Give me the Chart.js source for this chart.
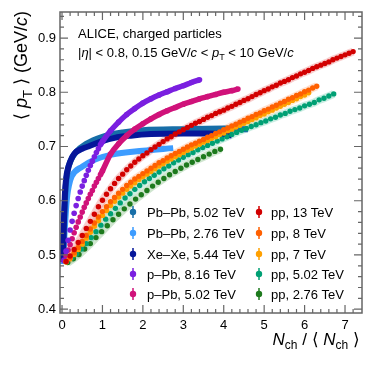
<!DOCTYPE html>
<html>
<head>
<meta charset="utf-8">
<script src="https://cdn.jsdelivr.net/npm/chart.js@4.4.1/dist/chart.umd.min.js"></script>
<style>
  html, body { margin: 0; padding: 0; background: #fff; }
  canvas { display: block; }
</style>
</head>
<body>
<canvas id="c" width="374" height="374"></canvas>
<script>
// <pT> vs Nch/<Nch>

const xTicks = [0, 1, 2, 3, 4, 5, 6, 7];
const yTicks = [0.4, 0.5, 0.6, 0.7, 0.8, 0.9];

// x positions (Nch/<Nch>) of the pp bins
const xPP10 = [0.1, 0.2, 0.3, 0.4, 0.5, 0.6, 0.7, 0.8, 0.9, 1.0,
  1.1, 1.2, 1.3, 1.4, 1.5, 1.6, 1.7, 1.8, 1.9, 2.0,
  2.1, 2.2, 2.3, 2.4, 2.5, 2.6, 2.7, 2.8, 2.9, 3.0,
  3.1, 3.2, 3.3, 3.4, 3.5, 3.6, 3.7, 3.8, 3.9, 4.0,
  4.1, 4.2, 4.3, 4.4, 4.5, 4.6, 4.7, 4.8, 4.9, 5.0,
  5.1, 5.2, 5.3, 5.4, 5.5, 5.6, 5.7, 5.8, 5.9, 6.0,
  6.1, 6.2, 6.3, 6.4, 6.5, 6.6, 6.7, 6.8, 6.9, 7.0,
  7.1, 7.2];
const xPP502 = [0.12, 0.24, 0.36, 0.48, 0.60, 0.72, 0.84, 0.96, 1.08, 1.20,
  1.32, 1.44, 1.56, 1.68, 1.80, 1.92, 2.04, 2.16, 2.28, 2.40,
  2.52, 2.64, 2.76, 2.88, 3.00, 3.12, 3.24, 3.36, 3.48, 3.60,
  3.72, 3.84, 3.96, 4.08, 4.20, 4.32, 4.44, 4.56, 4.68, 4.80,
  4.92, 5.04, 5.16, 5.28, 5.40, 5.52, 5.64, 5.76, 5.88, 6.00,
  6.12, 6.24, 6.36, 6.48, 6.60, 6.72];
const xPP276 = [0.14, 0.28, 0.42, 0.56, 0.70, 0.84, 0.98, 1.12, 1.26, 1.40,
  1.54, 1.68, 1.82, 1.96, 2.10, 2.24, 2.38, 2.52, 2.66, 2.80,
  2.94, 3.08, 3.22, 3.36, 3.50, 3.64, 3.78, 3.92];

const pp13 = [0.488, 0.498, 0.510, 0.523, 0.536, 0.549, 0.562, 0.575, 0.589, 0.601,
  0.612, 0.622, 0.632, 0.641, 0.649, 0.657, 0.664, 0.671, 0.677, 0.683,
  0.688, 0.694, 0.699, 0.704, 0.709, 0.714, 0.718, 0.723, 0.727, 0.731,
  0.735, 0.739, 0.743, 0.746, 0.750, 0.754, 0.757, 0.761, 0.764, 0.767,
  0.771, 0.774, 0.778, 0.781, 0.785, 0.788, 0.792, 0.796, 0.799, 0.803,
  0.806, 0.810, 0.813, 0.817, 0.820, 0.823, 0.827, 0.830, 0.834, 0.837,
  0.840, 0.844, 0.847, 0.850, 0.853, 0.856, 0.860, 0.863, 0.866, 0.869,
  0.872, 0.875];
const pp8 = [0.488, 0.495, 0.504, 0.514, 0.525, 0.536, 0.548, 0.559, 0.570, 0.580,
  0.589, 0.598, 0.606, 0.614, 0.621, 0.628, 0.634, 0.640, 0.645, 0.650,
  0.655, 0.660, 0.665, 0.670, 0.674, 0.679, 0.683, 0.687, 0.691, 0.695,
  0.699, 0.703, 0.706, 0.710, 0.713, 0.717, 0.720, 0.724, 0.727, 0.731,
  0.734, 0.738, 0.741, 0.745, 0.748, 0.752, 0.755, 0.759, 0.762, 0.766,
  0.769, 0.773, 0.776, 0.780, 0.783, 0.787, 0.790, 0.794, 0.797, 0.801,
  0.804, 0.808, 0.811];
const pp7 = [0.487, 0.493, 0.501, 0.510, 0.520, 0.531, 0.542, 0.553, 0.563, 0.573,
  0.582, 0.591, 0.599, 0.607, 0.614, 0.621, 0.627, 0.633, 0.639, 0.644,
  0.649, 0.654, 0.659, 0.664, 0.668, 0.673, 0.677, 0.681, 0.685, 0.689,
  0.693, 0.697, 0.701, 0.704, 0.708, 0.711, 0.715, 0.718, 0.722, 0.725,
  0.729, 0.732, 0.736, 0.739, 0.743, 0.746, 0.750, 0.753, 0.757, 0.760,
  0.764, 0.767, 0.771, 0.774, 0.778, 0.781, 0.785, 0.788, 0.792, 0.795,
  0.799];
const pp502 = [0.488, 0.494, 0.502, 0.511, 0.521, 0.532, 0.543, 0.555, 0.566, 0.576,
  0.586, 0.596, 0.605, 0.613, 0.621, 0.628, 0.635, 0.641, 0.647, 0.653,
  0.659, 0.664, 0.670, 0.675, 0.680, 0.685, 0.689, 0.694, 0.698, 0.702,
  0.706, 0.710, 0.714, 0.718, 0.722, 0.726, 0.730, 0.733, 0.737, 0.740,
  0.744, 0.747, 0.751, 0.754, 0.758, 0.761, 0.765, 0.768, 0.771, 0.775,
  0.778, 0.781, 0.786, 0.789, 0.793, 0.797];
const pp276 = [0.486, 0.493, 0.501, 0.511, 0.521, 0.532, 0.543, 0.554, 0.565, 0.575,
  0.585, 0.594, 0.603, 0.611, 0.619, 0.627, 0.634, 0.641, 0.648, 0.654,
  0.660, 0.666, 0.671, 0.676, 0.681, 0.686, 0.691, 0.695];

const xPPb816 = [0.05, 0.10, 0.15, 0.20, 0.25, 0.30, 0.35, 0.40, 0.45, 0.50,
  0.55, 0.60, 0.65, 0.70, 0.75, 0.80, 0.85, 0.90, 0.95, 1.00,
  1.2, 1.4, 1.6, 1.8, 2.0, 2.2, 2.4, 2.6, 2.8, 3.0, 3.2, 3.4];
const pPb816 = [0.490, 0.507, 0.527, 0.546, 0.562, 0.577, 0.591, 0.604, 0.616, 0.627,
  0.637, 0.647, 0.656, 0.665, 0.673, 0.681, 0.689, 0.696, 0.703, 0.709,
  0.729, 0.745, 0.759, 0.770, 0.780, 0.788, 0.795, 0.801, 0.807, 0.812, 0.818, 0.823];
const xPPb502 = [0.05, 0.10, 0.15, 0.20, 0.25, 0.30, 0.35, 0.40, 0.45, 0.50,
  0.55, 0.60, 0.65, 0.70, 0.75, 0.80, 0.85, 0.90, 0.95, 1.00,
  1.2, 1.4, 1.6, 1.8, 2.0, 2.2, 2.4, 2.6, 2.8, 3.0, 3.2, 3.4, 3.6, 3.8, 4.0, 4.2, 4.35];
const pPb502 = [0.490, 0.499, 0.509, 0.519, 0.530, 0.541, 0.551, 0.561, 0.570, 0.579,
  0.588, 0.596, 0.604, 0.612, 0.619, 0.627, 0.634, 0.641, 0.648, 0.655,
  0.686, 0.705, 0.720, 0.732, 0.742, 0.751, 0.759, 0.766, 0.772, 0.778,
  0.783, 0.788, 0.792, 0.796, 0.800, 0.803, 0.806];

const xXeXe = [0.02, 0.03, 0.05, 0.07, 0.10, 0.16, 0.25, 0.32, 0.50, 0.65, 1.0, 1.3, 1.7, 2.2, 3.0, 3.6, 4.0, 4.2];
const xeXe544 = [0.487, 0.520, 0.570, 0.610, 0.640, 0.663, 0.680, 0.688, 0.696, 0.700, 0.710, 0.716, 0.720, 0.723, 0.724, 0.724, 0.723, 0.720];
const xPbPb502 = [0.02, 0.04, 0.06, 0.09, 0.14, 0.22, 0.35, 0.60, 1.0, 1.5, 2.0, 3.0, 4.0, 4.6];
const pbPb502 = [0.490, 0.530, 0.580, 0.625, 0.655, 0.675, 0.690, 0.705, 0.718, 0.726, 0.730, 0.732, 0.733, 0.732];
const xPbPb276 = [0.02, 0.04, 0.07, 0.10, 0.13, 0.17, 0.24, 0.50, 0.82, 1.23, 2.0, 2.75];
const pbPb276 = [0.483, 0.510, 0.550, 0.585, 0.610, 0.628, 0.645, 0.663, 0.676, 0.685, 0.692, 0.697];

const legendLeft = ['Pb\u2013Pb, 5.02 TeV', 'Pb\u2013Pb, 2.76 TeV', 'Xe\u2013Xe, 5.44 TeV', 'p\u2013Pb, 8.16 TeV', 'p\u2013Pb, 5.02 TeV'];
const legendRight = ['pp, 13 TeV', 'pp, 8 TeV', 'pp, 7 TeV', 'pp, 5.02 TeV', 'pp, 2.76 TeV'];

const colors = {
  pbpb502: '#176ea8', pbpb276: '#3d9cff', xexe: '#06169a', ppb816: '#7a1fe0', ppb502: '#d0127a',
  pp13: '#d20000', pp8: '#ff6000', pp7: '#ffa000', pp502: '#00a074', pp276: '#1d7a1d'
};
const colorsLeft = [colors.pbpb502, colors.pbpb276, colors.xexe, colors.ppb816, colors.ppb502];
const colorsRight = [colors.pp13, colors.pp8, colors.pp7, colors.pp502, colors.pp276];

const FONT = '"Liberation Sans", Arial, sans-serif';

function pts(xs, ys) {
  return ys.map((y, i) => ({ x: xs[i], y: y }));
}

function band(xs, ys, col) {
  return { data: pts(xs, ys), showLine: true, borderColor: col, borderWidth: 8, pointRadius: 0, order: 50 };
}
function hiLine(xs, ys, col, order) {
  return { data: pts(xs, ys), showLine: true, borderColor: col, borderWidth: 6, pointRadius: 0,
    cubicInterpolationMode: 'monotone', order: order };
}
function pPbSeries(xs, ys, col, order) {
  return { data: pts(xs, ys), showLine: true, borderColor: col, borderWidth: 5.5, pointRadius: 2.8,
    pointBackgroundColor: col, pointBorderWidth: 0, cubicInterpolationMode: 'monotone', order: order,
    segment: { borderColor: c => c.p0.parsed.x < 0.95 ? 'rgba(0,0,0,0)' : col } };
}
function ppSeries(xs, ys, col, order) {
  return { data: pts(xs, ys), showLine: false, pointRadius: 2.7, backgroundColor: col,
    pointBorderWidth: 0, order: order };
}

// text runs: [text, style] where style is 'n' normal, 'i' italic, 's' subscript
function drawRuns(ctx, runs, x, y, size, measureOnly) {
  let cx = x;
  runs.forEach(r => {
    const t = r[0], st = r[1];
    let f = size + 'px ' + FONT, dy = 0;
    if (st === 'i') f = 'italic ' + f;
    if (st === 's') { f = Math.round(size * 0.7) + 'px ' + FONT; dy = size * 0.25; }
    ctx.font = f;
    if (!measureOnly) ctx.fillText(t, cx, y + dy);
    cx += ctx.measureText(t).width;
  });
  return cx - x;
}

const decor = {
  id: 'decor',
  afterDraw(chart) {
    const ctx = chart.ctx, a = chart.chartArea;
    const xs = chart.scales.x, ys = chart.scales.y;
    ctx.save();
    ctx.strokeStyle = '#666';
    ctx.lineWidth = 1.5;
    ctx.strokeRect(a.left, a.top, a.right - a.left, a.bottom - a.top);
    ctx.lineWidth = 1.2;
    ctx.beginPath();
    for (let k = 0; k <= 37; k++) {
      const v = k * 0.2;
      const px = xs.getPixelForValue(v);
      if (px > a.right - 1) break;
      const len = (k % 5 === 0) ? 8 : 4;
      ctx.moveTo(px, a.bottom); ctx.lineTo(px, a.bottom - len);
      ctx.moveTo(px, a.top); ctx.lineTo(px, a.top + len);
    }
    for (let k = 0; k <= 27; k++) {
      const v = 0.4 + k * 0.02;
      const py = ys.getPixelForValue(v);
      if (py < a.top + 1) break;
      const len = (k % 5 === 0) ? 8 : 4;
      ctx.moveTo(a.left, py); ctx.lineTo(a.left + len, py);
      ctx.moveTo(a.right, py); ctx.lineTo(a.right - len, py);
    }
    ctx.stroke();

    ctx.fillStyle = '#000';
    ctx.textBaseline = 'alphabetic';
    ctx.textAlign = 'left';
    drawRuns(ctx, [['ALICE, charged particles', 'n']], 78, 38, 13);
    drawRuns(ctx, [['|', 'n'], ['\u03b7', 'i'], ['| < 0.8, 0.15 GeV/', 'n'], ['c', 'i'], [' < ', 'n'],
      ['p', 'i'], ['T', 's'], [' < 10 GeV/', 'n'], ['c', 'i']], 78, 57, 13);

    // legend
    const rows = [212, 233, 254, 274, 294];
    const cols = [[133, 147, legendLeft, colorsLeft], [259, 271, legendRight, colorsRight]];
    cols.forEach(c => {
      c[2].forEach((name, i) => {
        const y = rows[i];
        ctx.strokeStyle = c[3][i];
        ctx.fillStyle = c[3][i];
        ctx.lineWidth = 1.5;
        ctx.beginPath();
        ctx.moveTo(c[0], y - 6); ctx.lineTo(c[0], y + 6);
        ctx.stroke();
        ctx.beginPath();
        ctx.arc(c[0], y, 3.2, 0, Math.PI * 2);
        ctx.fill();
        ctx.fillStyle = '#000';
        ctx.font = '13px ' + FONT;
        ctx.fillText(name, c[1], y + 4.6);
      });
    });

    // x axis title
    const xRuns = [['N', 'i'], ['ch', 's'], [' / \u27e8 ', 'n'], ['N', 'i'], ['ch', 's'], [' \u27e9', 'n']];
    const wx = drawRuns(ctx, xRuns, 0, 0, 17, true);
    drawRuns(ctx, xRuns, 360 - wx, 345, 17);

    // y axis title
    const yRuns = [['\u27e8 ', 'n'], ['p', 'i'], ['T', 's'], [' \u27e9 (GeV/', 'n'], ['c', 'i'], [')', 'n']];
    const wy = drawRuns(ctx, yRuns, 0, 0, 18, true);
    ctx.translate(27, 11 + wy);
    ctx.rotate(-Math.PI / 2);
    drawRuns(ctx, yRuns, 0, 0, 18);
    ctx.restore();
  }
};

Chart.defaults.font.family = FONT;
Chart.defaults.font.size = 13;
Chart.defaults.color = '#000';

new Chart(document.getElementById('c'), {
  type: 'scatter',
  data: {
    datasets: [
      band(xPP10, pp13, 'rgba(230,80,80,0.28)'),
      band(xPP10, pp8, 'rgba(255,140,80,0.28)'),
      band(xPP10, pp7, 'rgba(255,190,90,0.28)'),
      band(xPP502, pp502, 'rgba(60,190,150,0.28)'),
      band(xPP276, pp276, 'rgba(80,160,80,0.28)'),
      hiLine(xPbPb276, pbPb276, colors.pbpb276, 20),
      hiLine(xPbPb502, pbPb502, colors.pbpb502, 19),
      hiLine(xXeXe, xeXe544, colors.xexe, 18),
      pPbSeries(xPPb502, pPb502, colors.ppb502, 15),
      pPbSeries(xPPb816, pPb816, colors.ppb816, 14),
      ppSeries(xPP276, pp276, colors.pp276, 10),
      ppSeries(xPP502, pp502, colors.pp502, 9),
      ppSeries(xPP10, pp7, colors.pp7, 8),
      ppSeries(xPP10, pp8, colors.pp8, 7),
      ppSeries(xPP10, pp13, colors.pp13, 6)
    ]
  },
  options: {
    responsive: false,
    animation: false,
    events: [],
    devicePixelRatio: 1,
    layout: { padding: { top: 12, right: 12, left: 0, bottom: 0 } },
    plugins: { legend: { display: false }, tooltip: { enabled: false } },
    scales: {
      x: {
        type: 'linear', min: -0.05, max: 7.42,
        grid: { display: false, drawTicks: false },
        border: { display: false },
        afterBuildTicks: s => { s.ticks = xTicks.map(v => ({ value: v })); },
        afterFit: s => { s.height = 61; },
        ticks: { padding: 5, maxRotation: 0, callback: v => String(v) }
      },
      y: {
        type: 'linear', min: 0.393, max: 0.948,
        grid: { display: false, drawTicks: false },
        border: { display: false },
        afterBuildTicks: s => { s.ticks = yTicks.map(v => ({ value: v })); },
        afterFit: s => { s.width = 60; },
        ticks: { padding: 4, callback: v => v.toFixed(1) }
      }
    }
  },
  plugins: [decor]
});
</script>
</body>
</html>
